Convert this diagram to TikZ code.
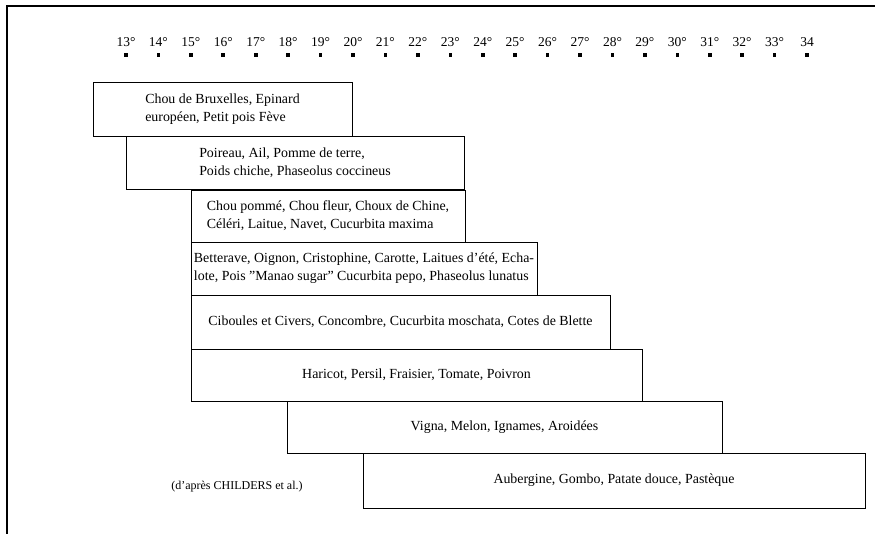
\documentclass[tikz,border=0pt]{standalone}
\usepackage{fontspec}
\setmainfont{Liberation Serif}[Ligatures=ResetAll]
\begin{document}
\begin{tikzpicture}[x=1pt,y=-1pt,
  crop/.style={draw=black, line width=0.9pt, inner sep=0pt, outer sep=0pt, align=left,
    font=\fontsize{13.9}{18}\selectfont},
  templabel/.style={font=\fontsize{13.5}{16}\selectfont, inner sep=0pt},
  tempdot/.style={fill=black, minimum size=3.6pt, inner sep=0pt},
  frameline/.style={line width=1.3pt}]
\useasboundingbox (0,0) rectangle (875,534);
% frame
\coordinate (fl) at (7,534);
\coordinate (ftl) at (7,6);
\coordinate (ftr) at (875,6);
\draw[frameline] (fl) -- (ftl) -- (ftr);
% temperature scale
\foreach \t [count=\i from 0] in {13°,14°,15°,16°,17°,18°,19°,20°,21°,22°,23°,24°,25°,26°,27°,28°,29°,30°,31°,32°,33°,34} {
  \node[templabel] (t\i) at ({126+32.43*\i},42) {\t};
  \node[tempdot] (d\i) at ({126+32.43*\i},55) {};
}
% crop boxes
\node[crop, minimum width=259pt, minimum height=54pt] (b1) at (222.5,109)
  {Chou de Bruxelles, Epinard\\européen, Petit pois Fève};
\node[crop, minimum width=338pt, minimum height=53pt] (b2) at (295,162.5)
  {Poireau, Ail, Pomme de terre,\\Poids chiche, Phaseolus coccineus};
\node[crop, minimum width=274pt, minimum height=52pt] (b3) at (328,216)
  {Chou pommé, Chou fleur, Choux de Chine,\\Céléri, Laitue, Navet, Cucurbita maxima};
\node[crop, minimum width=346pt, minimum height=53pt] (b4) at (364,268.5)
  {Betterave, Oignon, Cristophine, Carotte, Laitues d'été, Echa-\\lote, Pois "Manao sugar" Cucurbita pepo, Phaseolus lunatus};
\node[crop, minimum width=419pt, minimum height=54pt] (b5) at (400.5,322)
  {Ciboules et Civers, Concombre, Cucurbita moschata, Cotes de Blette};
\node[crop, minimum width=451pt, minimum height=52pt] (b6) at (416.5,375)
  {Haricot, Persil, Fraisier, Tomate, Poivron};
\node[crop, minimum width=435pt, minimum height=52pt] (b7) at (504.5,427)
  {Vigna, Melon, Ignames, Aroidées};
\node[crop, minimum width=502pt, minimum height=55pt] (b8) at (614,480.5)
  {Aubergine, Gombo, Patate douce, Pastèque};
% source
\node[font=\fontsize{12}{14}\selectfont, inner sep=0pt] (src) at (237,487) {(d'après CHILDERS et al.)};
\end{tikzpicture}
\end{document}
